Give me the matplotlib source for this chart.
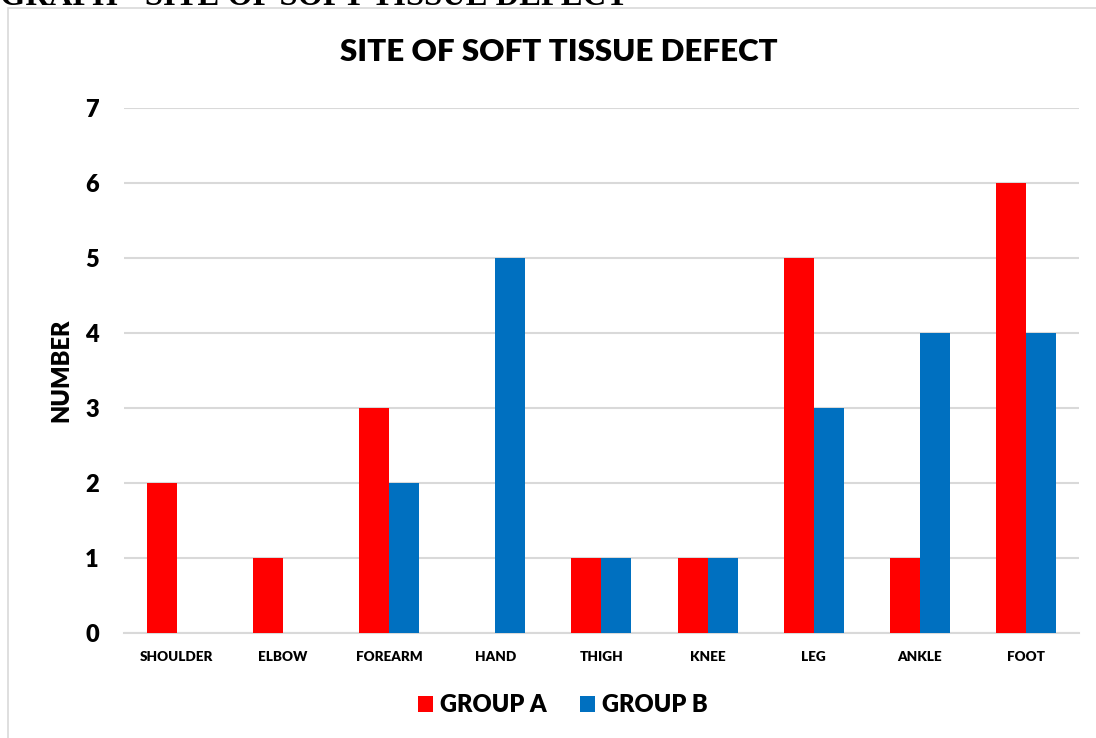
import numpy as np
import matplotlib
matplotlib.use('Agg')
import matplotlib.pyplot as plt
from matplotlib.patches import Rectangle

plt.rcParams['font.family'] = ['Lato', 'DejaVu Sans']

sites = ['SHOULDER', 'ELBOW', 'FOREARM', 'HAND', 'THIGH', 'KNEE', 'LEG', 'ANKLE', 'FOOT']
group_a = [2, 1, 3, 0, 1, 1, 5, 1, 6]
group_b = [0, 0, 2, 5, 1, 1, 3, 4, 4]

red = '#ff0000'
blue = '#0070c0'
grid = '#d9d9d9'
wt = 800


def main():
    fig = plt.figure(figsize=(10.96, 7.38), dpi=100)
    ax = fig.add_axes([0.113, 0.1423, 0.8715, 0.7114])

    # outer chart frame (partly off the page)
    fig.patches.append(Rectangle((8 / 1096, -0.1), 1.2, 1 - 8 / 738 + 0.1,
                                 transform=fig.transFigure, fill=False,
                                 edgecolor=grid, linewidth=1.2))
    # clipped caption above the chart
    fig.text(0.0, 1 - 5 / 738, 'GRAPH - SITE OF SOFT TISSUE DEFECT',
             family='Liberation Serif', fontweight='bold', fontsize=23.5,
             ha='left', va='baseline')

    fig.text(559 / 1096, 1 - 52 / 738, 'SITE OF SOFT TISSUE DEFECT',
             fontsize=22.5, fontweight=wt, ha='center', va='center')

    x = np.arange(len(sites))
    w = 0.283
    ax.bar(x - w / 2, group_a, w, color=red, label='GROUP A', zorder=3)
    ax.bar(x + w / 2, group_b, w, color=blue, label='GROUP B', zorder=3)

    ax.set_xlim(-0.5, len(sites) - 0.5)
    ax.set_ylim(0, 7)
    ax.set_yticks(range(8))
    ax.yaxis.grid(True, color=grid, linewidth=1.5, zorder=0)
    for s in ['top', 'right', 'left']:
        ax.spines[s].set_visible(False)
    ax.spines['bottom'].set_color(grid)
    ax.spines['bottom'].set_linewidth(1.5)
    ax.tick_params(axis='both', length=0)
    ax.set_xticks(x)
    ax.set_xticklabels(sites, fontsize=9.7, fontweight=wt)
    ax.tick_params(axis='x', pad=13)
    ax.tick_params(axis='y', pad=18, labelsize=17)
    for t in ax.get_yticklabels():
        t.set_fontweight(wt)
    fig.text(61 / 1096, 1 - 370 / 738, 'NUMBER', rotation=90, fontsize=17,
             fontweight=wt, ha='center', va='center')

    fig.legend(loc='center', bbox_to_anchor=(563 / 1096, 1 - 705 / 738), ncol=2,
               frameon=False, prop={'weight': wt, 'size': 17},
               handlelength=0.65, handleheight=0.65, handletextpad=0.3, columnspacing=1.4)

    fig.savefig('out.png', dpi=100)


if __name__ == "__main__":
    main()
